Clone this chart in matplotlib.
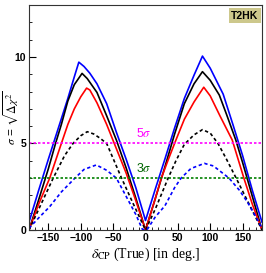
import matplotlib
matplotlib.use("Agg")
import matplotlib.pyplot as plt
import numpy as np

plt.rcParams['mathtext.fontset'] = 'stix'

# blue solid
d_bs = [-180, -165, -150, -135, -120, -110, -103, -95, -86, -75, -60, -45, -30, -15, 0,
        15, 30, 45, 60, 75, 88, 100, 110, 120, 135, 150, 165, 180]
v_bs = [0.45, 2.3, 4.1, 5.85, 7.6, 8.85, 9.7, 9.45, 9.06, 8.45, 7.3, 5.65, 4.1, 2.45, 0.55,
        2.35, 4.1, 5.9, 7.6, 8.95, 10.05, 9.35, 8.6, 7.85, 6.1, 4.3, 2.3, 0.45]

# black solid
d_ks = [-180, -165, -150, -139, -130, -120, -110, -98, -90, -75, -60, -45, -30, -15, 0,
        15, 30, 45, 60, 75, 88, 100, 114, 125, 139.5, 150, 165, 180]
v_ks = [0.0, 1.75, 3.55, 5.0, 6.1, 7.45, 8.4, 9.05, 8.75, 7.95, 6.6, 5.2, 3.6, 1.85, 0.0,
        1.8, 3.65, 5.55, 7.3, 8.45, 9.15, 8.65, 7.8, 6.7, 5.2, 3.9, 1.95, 0.0]

# red solid
d_rs = [-180, -165, -148, -130, -120, -110, -100, -91, -86, -75, -60, -45, -30, -15, 0,
        15, 24, 35, 47, 60, 75, 90, 100, 115, 134, 152, 165, 180]
v_rs = [0.0, 1.5, 3.0, 5.0, 6.1, 7.0, 7.7, 8.2, 8.09, 7.35, 6.1, 4.7, 3.3, 1.7, 0.0,
        1.8, 2.95, 4.05, 5.2, 6.4, 7.4, 8.25, 7.75, 6.6, 5.2, 3.0, 1.5, 0.0]

# black dashed
d_kd = [-180, -165, -142.6, -125, -112, -100, -90, -80, -70, -60, -37, -20, 0,
        15, 35, 47, 60, 75, 88, 100, 112, 125, 140, 160, 180]
v_kd = [0.0, 1.2, 3.0, 4.3, 5.0, 5.45, 5.68, 5.55, 5.3, 5.0, 3.0, 1.6, 0.0,
        1.2, 3.0, 4.0, 4.95, 5.5, 5.8, 5.6, 5.0, 4.1, 3.0, 1.5, 0.0]

# blue dashed
d_bd = [-180, -165, -148, -130, -109, -95, -76, -60, -45, -30, -15, -5, 0, 3,
        15, 30, 45, 55, 70, 91, 105, 117, 129, 145, 157, 170, 180]
v_bd = [0.1, 0.7, 1.35, 2.2, 3.0, 3.5, 3.76, 3.45, 3.0, 1.95, 0.9, 0.05, 0.0, 0.05,
        0.75, 1.4, 2.45, 3.0, 3.55, 3.85, 3.7, 3.35, 3.0, 2.3, 1.64, 0.8, 0.1]

x_major = [-150, -100, -50, 0, 50, 100, 150]
y_major = [0, 5, 10]

fig = plt.figure(figsize=(2.66, 2.73), dpi=100)
ax = fig.add_axes([0.109, 0.1575, 0.876, 0.824])

ax.plot(d_bs, v_bs, color='blue', lw=1.2)
ax.plot(d_ks, v_ks, color='black', lw=1.2)
ax.plot(d_rs, v_rs, color='red', lw=1.2)
ax.plot(d_kd, v_kd, color='black', lw=1.2, ls=(0, (2, 1.6)))
ax.plot(d_bd, v_bd, color='blue', lw=1.2, ls=(0, (2, 1.6)))

ax.axhline(5, color='magenta', lw=1.2, ls=(0, (1.5, 1.2)))
ax.axhline(3, color='green', lw=1.2, ls=(0, (1.5, 1.2)))
ax.text(-3, 5.6, r'5$\sigma$', color='magenta', fontsize=9, ha='center', va='center',
        family='Liberation Sans')
ax.text(-3, 3.55, r'3$\sigma$', color='darkgreen', fontsize=9, ha='center', va='center',
        family='Liberation Sans')

ax.text(0.985, 0.975, 'T2HK', transform=ax.transAxes, ha='right', va='top',
        fontsize=7.5, fontweight='bold', family='Liberation Sans',
        bbox=dict(boxstyle='square,pad=0.25', fc='#cdc88c', ec='none'))

ax.set_xlim(-180, 180)
ax.set_ylim(0, 13)
ax.set_xticks(x_major)
ax.set_yticks(y_major)
ax.set_xticks(np.arange(-180, 181, 10), minor=True)
ax.set_yticks(np.arange(0, 14, 1), minor=True)
ax.tick_params(which='both', direction='in', top=False, right=False)
ax.tick_params(which='major', length=5, width=0.8, labelsize=7.5, pad=2)
ax.tick_params(which='minor', length=2.5, width=0.6)
for lab in ax.get_xticklabels() + ax.get_yticklabels():
    lab.set_fontweight('bold')
    lab.set_family('Liberation Sans')
for s in ax.spines.values():
    s.set_color('#333333')

ax.set_xlabel(r'$\delta_{\rm CP}$ (True) [in deg.]', family='Liberation Serif',
              fontsize=10, labelpad=2)
ax.set_ylabel(r'$\sigma$ = $\sqrt{\Delta\chi^2}$', fontsize=8.5, family='Liberation Sans')
ax.yaxis.set_label_coords(-0.04, 0.5)

plt.savefig('out.png', dpi=100)
